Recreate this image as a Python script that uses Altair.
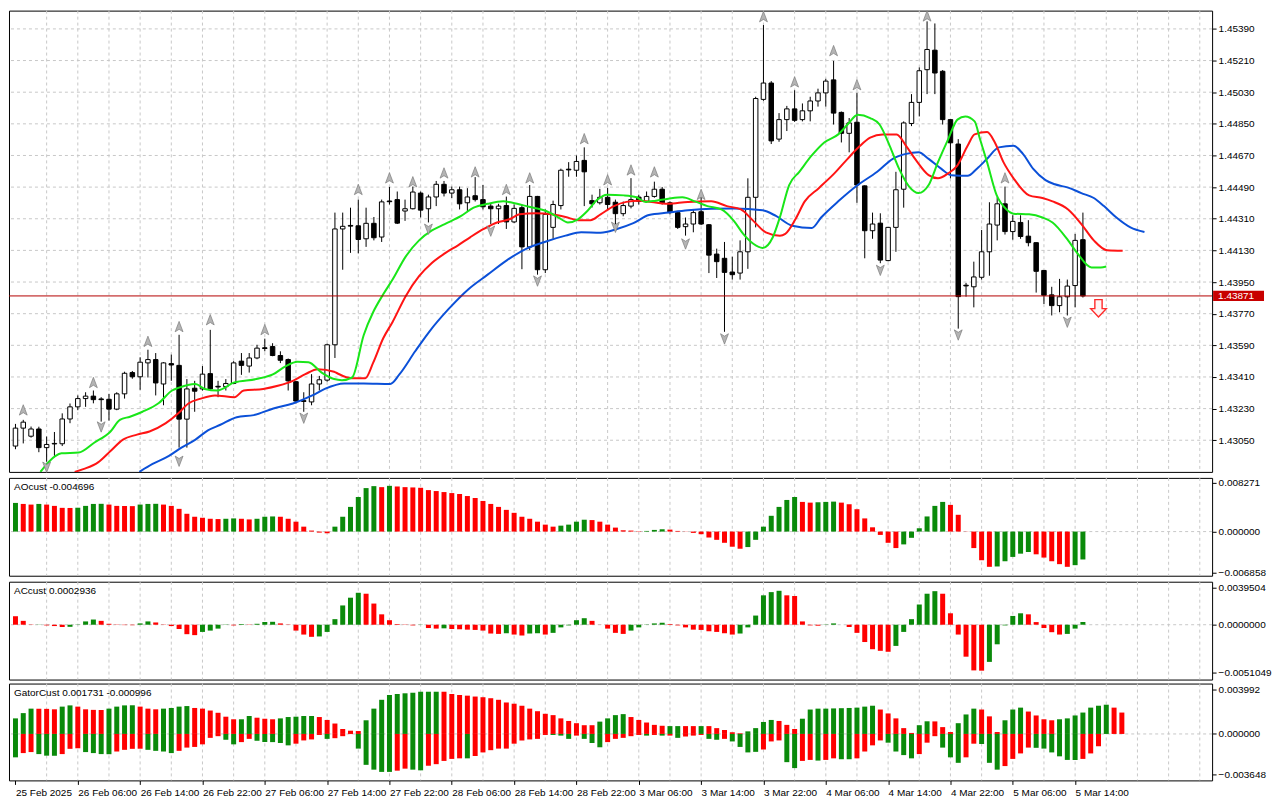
import json
import numpy as np
import pandas as pd
import altair as alt

# ---------------- data ----------------
x_labels = ["25 Feb 2025", "26 Feb 06:00", "26 Feb 14:00", "26 Feb 22:00", "27 Feb 06:00",
            "27 Feb 14:00", "27 Feb 22:00", "28 Feb 06:00", "28 Feb 14:00", "28 Feb 22:00",
            "3 Mar 06:00", "3 Mar 14:00", "3 Mar 22:00", "4 Mar 06:00", "4 Mar 14:00",
            "4 Mar 22:00", "5 Mar 06:00", "5 Mar 14:00"]

price_ticks = [1.43050, 1.43230, 1.43410, 1.43590, 1.43770, 1.43950, 1.44130,
               1.44310, 1.44490, 1.44670, 1.44850, 1.45030, 1.45210, 1.45390]

open_ = [1.43017,1.43119,1.43073,1.43114,1.43008,1.43029,1.43030,1.43171,1.43240,1.43287,
         1.43301,1.43285,1.43283,1.43227,1.43314,1.43435,1.43411,1.43490,1.43509,1.43370,
         1.43486,1.43476,1.43170,1.43346,1.43342,1.43429,1.43357,1.43355,1.43373,1.43500,
         1.43472,1.43518,1.43576,1.43583,1.43532,1.43509,1.43383,1.43275,1.43268,1.43370,
         1.43392,1.43593,1.44252,1.44272,1.44270,1.44196,1.44284,1.44206,1.44411,1.44419,
         1.44354,1.44367,1.44456,1.44367,1.44434,1.44506,1.44456,1.44475,1.44401,1.44441,
         1.44419,1.44382,1.44367,1.44385,1.44292,1.44373,1.44150,1.44437,1.44020,1.44261,
         1.44385,1.44592,1.44586,1.44642,1.44413,1.44401,1.44432,1.44404,1.44339,1.44382,
         1.44433,1.44409,1.44437,1.44478,1.44401,1.44345,1.44265,1.44280,1.44350,1.44276,
         1.44109,1.44085,1.44007,1.44001,1.44122,1.44432,1.44989,1.45082,1.44763,1.44874,
         1.44935,1.44874,1.44924,1.44980,1.45026,1.45100,1.44915,1.44796,1.44859,1.44497,
         1.44242,1.44285,1.44072,1.44261,1.44478,1.44852,1.44972,1.45158,1.45269,1.45149,
         1.44874,1.44735,1.43932,1.43923,1.43977,1.44122,1.44274,1.44395,1.44237,1.44289,
         1.44211,1.44174,1.44016,1.43877,1.43816,1.43866,1.43930,1.44191]
high = [1.43143,1.43166,1.43128,1.43127,1.43071,1.43097,1.43203,1.43259,1.43305,1.43323,
        1.43333,1.43295,1.43314,1.43323,1.43440,1.43444,1.43522,1.43565,1.43546,1.43494,
        1.43537,1.43650,1.43398,1.43388,1.43472,1.43678,1.43388,1.43398,1.43500,1.43546,
        1.43546,1.43593,1.43628,1.43602,1.43556,1.43515,1.43388,1.43323,1.43426,1.43416,
        1.43600,1.44345,1.44345,1.44373,1.44419,1.44373,1.44320,1.44419,1.44491,1.44465,
        1.44419,1.44493,1.44465,1.44447,1.44525,1.44525,1.44493,1.44493,1.44484,1.44547,
        1.44502,1.44397,1.44395,1.44436,1.44391,1.44391,1.44502,1.44440,1.44363,1.44413,
        1.44595,1.44632,1.44670,1.44716,1.44447,1.44480,1.44486,1.44419,1.44408,1.44541,
        1.44447,1.44465,1.44521,1.44491,1.44409,1.44352,1.44317,1.44363,1.44436,1.44280,
        1.44140,1.44178,1.44094,1.44187,1.44540,1.45004,1.45412,1.45093,1.44911,1.44952,
        1.45041,1.44966,1.45004,1.45050,1.45106,1.45208,1.44920,1.44883,1.45026,1.44500,
        1.44345,1.44341,1.44263,1.44577,1.44864,1.45019,1.45171,1.45433,1.45421,1.45156,
        1.44877,1.44763,1.43945,1.44066,1.44246,1.44404,1.44432,1.44493,1.44330,1.44330,
        1.44302,1.44175,1.44018,1.43923,1.43968,1.43964,1.44224,1.44345]
low = [1.42999,1.43032,1.43065,1.42982,1.42928,1.42961,1.43017,1.43147,1.43221,1.43240,
       1.43260,1.43156,1.43162,1.43221,1.43287,1.43400,1.43337,1.43407,1.43305,1.43249,
       1.43388,1.43008,1.43008,1.43212,1.43333,1.43333,1.43295,1.43333,1.43370,1.43422,
       1.43435,1.43511,1.43556,1.43528,1.43489,1.43333,1.43259,1.43212,1.43249,1.43333,
       1.43383,1.43518,1.44020,1.44116,1.44113,1.44150,1.44187,1.44178,1.44391,1.44280,
       1.44298,1.44363,1.44317,1.44289,1.44382,1.44437,1.44428,1.44363,1.44354,1.44408,
       1.44363,1.44280,1.44280,1.44252,1.44285,1.44023,1.44131,1.43992,1.44001,1.44196,
       1.44363,1.44549,1.44549,1.44382,1.44374,1.44391,1.44363,1.44280,1.44324,1.44369,
       1.44391,1.44402,1.44430,1.44391,1.44335,1.44252,1.44214,1.44233,1.44274,1.44001,
       1.43973,1.43667,1.43964,1.43964,1.44025,1.44261,1.44981,1.44735,1.44748,1.44809,
       1.44861,1.44864,1.44864,1.44948,1.44948,1.44846,1.44744,1.44688,1.44401,1.44085,
       1.44196,1.44057,1.44068,1.44122,1.44373,1.44837,1.44892,1.45019,1.45019,1.44846,
       1.44540,1.43685,1.43867,1.43806,1.43964,1.43986,1.44187,1.44220,1.44191,1.44196,
       1.44153,1.43890,1.43825,1.43760,1.43778,1.43760,1.43806,1.43862]
close = [1.43119,1.43153,1.43114,1.43008,1.43026,1.43032,1.43171,1.43240,1.43287,1.43301,
         1.43281,1.43281,1.43227,1.43314,1.43431,1.43411,1.43494,1.43509,1.43376,1.43490,
         1.43478,1.43170,1.43342,1.43329,1.43426,1.43342,1.43353,1.43373,1.43490,1.43476,
         1.43518,1.43574,1.43572,1.43532,1.43505,1.43388,1.43273,1.43271,1.43370,1.43394,
         1.43593,1.44252,1.44267,1.44268,1.44192,1.44284,1.44202,1.44406,1.44407,1.44285,
         1.44367,1.44462,1.44359,1.44434,1.44506,1.44456,1.44475,1.44395,1.44434,1.44419,
         1.44378,1.44367,1.44382,1.44292,1.44369,1.44150,1.44437,1.44020,1.44335,1.44391,
         1.44586,1.44588,1.44636,1.44577,1.44395,1.44432,1.44391,1.44339,1.44385,1.44419,
         1.44409,1.44437,1.44478,1.44401,1.44345,1.44261,1.44280,1.44345,1.44280,1.44103,
         1.44066,1.44005,1.43992,1.44122,1.44432,1.44994,1.45082,1.44753,1.44874,1.44935,
         1.44870,1.44924,1.44980,1.45026,1.45093,1.44911,1.44796,1.44855,1.44502,1.44242,
         1.44280,1.44075,1.44261,1.44475,1.44855,1.44972,1.45152,1.45273,1.45139,1.44874,
         1.44742,1.43867,1.43928,1.43979,1.44122,1.44280,1.44395,1.44237,1.44295,1.44209,
         1.44174,1.44011,1.43875,1.43816,1.43866,1.43927,1.44187,1.43871]

# Alligator lines (bar position, price)
lips_bar = [3.2,5.1,5.9,8.1,10.1,12.2,13.4,14.7,16.3,18.4,20.1,20.9,23.1,24.3,25.9,28.1,30.9,33.1,
            34.7,36.2,37.6,39.3,40.9,41.9,43.2,44.7,45.9,47.2,48.4,50.1,51.8,53.4,55.1,57.2,58.8,
            60.6,62.6,63.8,65.9,68.1,69.7,70.9,72.2,73.4,74.7,75.9,78.1,79.7,80.9,82.2,83.8,85.6,
            87.2,88.8,90.6,92.2,93.4,94.7,95.9,97.2,98.1,99.3,100.6,102.2,103.8,105.6,106.8,108.1,
            109.7,110.9,112.2,113.4,114.7,115.9,117.2,118.4,119.7,120.9,121.9,123.1,123.8,124.7,
            125.9,127.2,128.1,130.1,131.8,133.1,135.1,136.3,138.1,139.3,140.0]
lips_val = [1.42870,1.42960,1.42976,1.42980,1.43036,1.43100,1.43166,1.43184,1.43212,1.43262,
            1.43333,1.43348,1.43370,1.43342,1.43333,1.43379,1.43398,1.43426,1.43472,1.43496,
            1.43494,1.43435,1.43398,1.43392,1.43407,1.43649,1.43778,1.43880,1.43964,1.44096,
            1.44187,1.44242,1.44280,1.44326,1.44373,1.44395,1.44409,1.44401,1.44378,1.44354,
            1.44317,1.44289,1.44307,1.44354,1.44419,1.44447,1.44443,1.44432,1.44406,1.44413,
            1.44424,1.44432,1.44409,1.44382,1.44363,1.44298,1.44224,1.44168,1.44144,1.44205,
            1.44317,1.44502,1.44577,1.44670,1.44744,1.44790,1.44846,1.44902,1.44883,1.44846,
            1.44725,1.44595,1.44493,1.44456,1.44502,1.44632,1.44762,1.44874,1.44892,1.44864,
            1.44762,1.44632,1.44447,1.44363,1.44339,1.44335,1.44317,1.44289,1.44187,1.44113,
            1.44033,1.44033,1.44038]
teeth_bar = [7.6,8.8,10.6,12.2,13.8,15.6,17.2,19.3,20.9,22.2,23.8,25.6,28.1,29.3,31.8,33.8,35.6,
             37.2,38.8,40.9,41.3,43.1,44.9,45.9,47.2,48.4,50.1,51.8,53.4,55.1,56.8,58.4,60.1,61.8,
             63.4,64.7,66.8,68.8,70.6,72.2,73.8,75.1,76.8,78.4,80.1,83.8,86.3,89.3,91.3,93.1,94.7,
             96.3,98.1,98.8,100.1,101.3,103.1,105.1,106.8,108.4,109.7,111.3,113.1,114.3,115.6,
             117.2,118.4,119.7,120.9,122.2,123.1,124.7,125.7,126.8,128.1,130.1,131.8,133.1,135.1,
             136.8,138.4,140.1,142.1]
teeth_val = [1.42870,1.42887,1.42924,1.42989,1.43054,1.43082,1.43100,1.43147,1.43203,1.43259,
             1.43287,1.43305,1.43295,1.43333,1.43342,1.43361,1.43388,1.43426,1.43454,1.43440,
             1.43431,1.43403,1.43403,1.43490,1.43630,1.43723,1.43871,1.43983,1.44057,1.44113,
             1.44159,1.44206,1.44252,1.44289,1.44307,1.44335,1.44341,1.44335,1.44320,1.44302,
             1.44302,1.44335,1.44382,1.44406,1.44413,1.44395,1.44406,1.44409,1.44382,1.44363,
             1.44298,1.44233,1.44214,1.44224,1.44307,1.44409,1.44484,1.44568,1.44651,1.44725,
             1.44771,1.44790,1.44790,1.44725,1.44642,1.44558,1.44540,1.44568,1.44614,1.44725,
             1.44790,1.44803,1.44744,1.44632,1.44540,1.44443,1.44428,1.44409,1.44363,1.44280,
             1.44187,1.44131,1.44128]
jaw_bar = [15.9,17.6,19.7,21.3,23.1,24.7,26.3,28.4,30.6,33.1,35.6,38.1,39.7,42.2,44.7,48.1,49.3,
           51.3,53.1,55.6,58.1,60.6,63.1,65.6,68.1,70.6,72.6,75.1,77.2,79.3,81.3,83.8,86.3,89.3,
           92.2,95.9,97.6,99.7,102.2,103.4,105.6,108.1,110.6,112.6,114.3,115.9,117.2,118.8,120.1,
           122.2,123.4,124.7,126.2,128.1,129.3,130.6,132.2,133.4,135.1,136.8,138.4,139.7,141.3,
           143.1,144.9]
jaw_val = [1.42870,1.42915,1.42961,1.43008,1.43054,1.43106,1.43138,1.43181,1.43193,1.43231,
           1.43259,1.43305,1.43342,1.43373,1.43373,1.43370,1.43426,1.43556,1.43667,1.43797,
           1.43908,1.43992,1.44075,1.44140,1.44181,1.44214,1.44233,1.44231,1.44252,1.44285,
           1.44331,1.44345,1.44358,1.44367,1.44369,1.44358,1.44326,1.44270,1.44257,1.44317,
           1.44409,1.44502,1.44577,1.44651,1.44679,1.44688,1.44651,1.44595,1.44558,1.44554,
           1.44595,1.44651,1.44716,1.44725,1.44679,1.44595,1.44530,1.44506,1.44487,1.44456,
           1.44428,1.44382,1.44317,1.44261,1.44235]

# Fractals (bar, marker price)
frac_up_bar = [1,10,17,21,25,32,44,48,51,55,59,63,66,73,76,79,82,88,96,100,105,108,117,127]
frac_up_val = [1.43221,1.43377,1.43611,1.43695,1.43734,1.43678,1.44475,1.44541,1.44519,1.44569,
               1.44575,1.44475,1.44541,1.44764,1.44530,1.44586,1.44575,1.44447,1.45458,1.45087,
               1.45265,1.45071,1.45462,1.44541]
frac_dn_bar = [4,11,21,37,53,61,67,77,86,91,111,121,135]
frac_dn_val = [1.42898,1.43127,1.42932,1.43177,1.44252,1.44241,1.43957,1.44263,1.44168,1.43628,
               1.44018,1.43650,1.43723]

last_price = 1.43871
signal_bar = [139]
signal_val = [1.43801]

# AO histogram
ao_val = [0.00483,0.00466,0.00455,0.00466,0.00455,0.00433,0.00400,0.00398,0.00402,0.00433,
          0.00466,0.00468,0.00455,0.00433,0.00431,0.00429,0.00455,0.00466,0.00468,0.00455,
          0.00433,0.00383,0.00300,0.00250,0.00233,0.00216,0.00211,0.00216,0.00222,0.00216,
          0.00205,0.00216,0.00250,0.00255,0.00250,0.00216,0.00167,0.00083,0.00017,-0.00017,
          -0.00028,0.00083,0.00250,0.00416,0.00583,0.00733,0.00766,0.00749,0.00771,0.00760,
          0.00749,0.00744,0.00738,0.00699,0.00683,0.00666,0.00649,0.00633,0.00599,0.00566,
          0.00516,0.00466,0.00416,0.00366,0.00316,0.00250,0.00216,0.00167,0.00117,0.00083,
          0.00100,0.00117,0.00167,0.00200,0.00194,0.00167,0.00117,0.00067,0.00022,0.00017,
          0.00006,0.00011,0.00028,0.00039,0.00033,0.00011,-0.00003,-0.00022,-0.00044,-0.00100,
          -0.00139,-0.00189,-0.00255,-0.00289,-0.00261,-0.00139,0.00083,0.00266,0.00416,0.00533,
          0.00583,0.00500,0.00488,0.00494,0.00500,0.00505,0.00488,0.00461,0.00377,0.00222,
          0.00072,-0.00056,-0.00189,-0.00278,-0.00216,-0.00105,0.00056,0.00255,0.00433,0.00500,
          0.00450,0.00283,-0.00003,-0.00278,-0.00483,-0.00594,-0.00588,-0.00500,-0.00427,-0.00372,
          -0.00344,-0.00383,-0.00438,-0.00500,-0.00549,-0.00594,-0.00566,-0.00470]
ao_col = ("grrgrrrrggggrrrrgggrrrrrrrrggrrgggrrrrrrrggggggrg" + "r" * 21 +
          "ggggrrrrrrrgggrrrrrrrrrrgggggggrrgggrrrrrrrrggggggrrrrrrgggggrrrrrgg")

# AC histogram
ac_val = [0.00090,0.00041,-0.00003,-0.00002,-0.00007,-0.00014,-0.00024,-0.00022,-0.00003,0.00035,
          0.00055,0.00041,0.00010,-0.00003,-0.00004,-0.00005,0.00014,0.00035,0.00024,-0.00003,
          -0.00014,-0.00045,-0.00100,-0.00110,-0.00076,-0.00062,-0.00041,-0.00003,-0.00007,0.00007,
          -0.00003,0.00010,0.00028,0.00031,0.00014,-0.00003,-0.00062,-0.00104,-0.00128,-0.00124,
          -0.00076,0.00059,0.00204,0.00286,0.00338,0.00328,0.00224,0.00110,0.00048,0.00007,
          -0.00003,-0.00007,0.00002,-0.00035,-0.00041,-0.00038,-0.00045,-0.00048,-0.00052,-0.00055,
          -0.00062,-0.00093,-0.00097,-0.00090,-0.00104,-0.00114,-0.00093,-0.00090,-0.00104,-0.00086,
          -0.00028,-0.00007,0.00048,0.00069,0.00041,-0.00001,-0.00041,-0.00086,-0.00097,-0.00062,
          -0.00028,-0.00003,0.00014,0.00021,0.00007,-0.00007,-0.00028,-0.00052,-0.00055,-0.00069,
          -0.00076,-0.00090,-0.00104,-0.00093,-0.00028,0.00097,0.00311,0.00345,0.00359,0.00311,
          0.00304,0.00035,-0.00007,-0.00010,-0.00003,0.00014,0.00000,-0.00024,-0.00086,-0.00183,
          -0.00259,-0.00276,-0.00286,-0.00224,-0.00076,0.00059,0.00214,0.00328,0.00355,0.00328,
          0.00121,-0.00104,-0.00338,-0.00483,-0.00486,-0.00393,-0.00207,-0.00007,0.00093,0.00121,
          0.00110,0.00028,-0.00035,-0.00079,-0.00104,-0.00097,-0.00041,0.00029]
ac_col = ("rrrgrrrggg" "grrrrrggrr" "rrrrggggrg" "rgggrrrrrg" "gggggrrrrr" "rrgrrgrrrr"
          "rrrgrrggrg" "ggggrrrrrg" "ggggrrrrrr" "rrrggggggr" "rrrrggrrrr" "rrrggggggr"
          "rrrrrggggg" "rrrrrggg")

# Gator oscillator: upper and lower histograms
gu_val = [0.00139,0.00186,0.00226,0.00225,0.00224,0.00220,0.00244,0.00255,0.00244,0.00220,
          0.00215,0.00214,0.00226,0.00244,0.00255,0.00256,0.00244,0.00226,0.00220,0.00226,
          0.00232,0.00244,0.00249,0.00232,0.00226,0.00209,0.00189,0.00154,0.00131,0.00131,
          0.00160,0.00145,0.00136,0.00131,0.00139,0.00151,0.00154,0.00160,0.00160,0.00151,
          0.00125,0.00093,0.00044,0.00029,0.00026,0.00122,0.00226,0.00305,0.00348,0.00357,
          0.00363,0.00368,0.00377,0.00377,0.00377,0.00377,0.00357,0.00348,0.00342,0.00334,
          0.00328,0.00319,0.00305,0.00281,0.00270,0.00252,0.00226,0.00203,0.00180,0.00168,
          0.00139,0.00116,0.00096,0.00078,0.00078,0.00110,0.00139,0.00168,0.00177,0.00151,
          0.00125,0.00102,0.00081,0.00073,0.00070,0.00070,0.00070,0.00070,0.00070,0.00070,
          0.00052,0.00035,0.00015,0.00006,0.00023,0.00052,0.00107,0.00125,0.00116,0.00081,
          0.00044,0.00136,0.00218,0.00226,0.00226,0.00228,0.00230,0.00232,0.00235,0.00244,
          0.00252,0.00218,0.00183,0.00139,0.00052,0.00009,0.00078,0.00113,0.00112,0.00061,
          0.00017,0.00096,0.00174,0.00226,0.00218,0.00157,0.00017,0.00122,0.00218,0.00235,
          0.00200,0.00165,0.00131,0.00122,0.00131,0.00139,0.00165,0.00191,0.00235,0.00252,
          0.00261,0.00235,0.00191]
gu_col = ("gggrrrggrr" "rrggggrrrg" "gggrrrrrrg" "grrrgggggr" "rrrrrggggg" "gggggrrrrr"
          "rrrrrrrrrr" "rrrrrggggr" "rrrrggrrgr" "rrrrggggrr" "rggggggg"
          "gggrrrrrggrrrgggrrrgggrrrrgggggggrr")
gl_val = [-0.00209,-0.00171,-0.00162,-0.00180,-0.00194,-0.00195,-0.00180,-0.00133,-0.00128,-0.00162,
          -0.00171,-0.00180,-0.00181,-0.00157,-0.00142,-0.00133,-0.00132,-0.00142,-0.00151,-0.00157,
          -0.00171,-0.00151,-0.00122,-0.00116,-0.00093,-0.00035,-0.00020,-0.00052,-0.00093,-0.00073,
          -0.00044,-0.00061,-0.00073,-0.00073,-0.00081,-0.00102,-0.00087,-0.00058,-0.00049,-0.00009,
          -0.00044,-0.00038,-0.00020,-0.00001,-0.00131,-0.00276,-0.00319,-0.00339,-0.00339,-0.00328,
          -0.00310,-0.00319,-0.00325,-0.00284,-0.00270,-0.00241,-0.00223,-0.00218,-0.00218,-0.00197,
          -0.00165,-0.00145,-0.00131,-0.00131,-0.00087,-0.00058,-0.00049,-0.00044,-0.00009,-0.00009,
          -0.00015,-0.00044,-0.00015,-0.00044,-0.00081,-0.00119,-0.00073,-0.00044,-0.00035,-0.00020,
          -0.00009,-0.00015,-0.00009,-0.00015,-0.00015,-0.00035,-0.00023,-0.00015,-0.00009,-0.00044,
          -0.00052,-0.00044,-0.00067,-0.00116,-0.00165,-0.00160,-0.00139,-0.00067,-0.00058,-0.00252,
          -0.00305,-0.00241,-0.00232,-0.00238,-0.00232,-0.00218,-0.00226,-0.00226,-0.00218,-0.00157,
          -0.00102,-0.00058,-0.00078,-0.00157,-0.00189,-0.00218,-0.00180,-0.00078,-0.00020,-0.00122,
          -0.00209,-0.00258,-0.00209,-0.00087,-0.00090,-0.00258,-0.00319,-0.00287,-0.00223,-0.00174,
          -0.00122,-0.00124,-0.00131,-0.00165,-0.00200,-0.00232,-0.00233,-0.00223,-0.00174,-0.00110]
gl_col = ("grrgggrrrg" "gggrrrrggg" "grrrrrrggr" "rgggggrrrr" "grrrgggggr" "rggrrrrrgr"
          "rrrrrrrrrg" "ggrgggrrrr" "rgrgrgrrrg" "grggggrrrg" "grrgrrgg"
          "rrrrggggrrrgggrrggg" "rrrrggggggrrr")

ao_ticks = [0.008271, 0.0, -0.006858]
ac_ticks = [0.0039504, 0.0, -0.0051049]
gator_ticks = [0.003992, 0.0, -0.003648]
grid_bars = list(range(4, 153, 4))
label_bars = list(range(0, 137, 8))

# ---------------- styling / layout ----------------
W = 1205
H_MAIN = 462
H_IND = 98
H_GATOR = 97
FONT = "Liberation Sans"
X_DOMAIN = [-0.19, 152.94]
GREEN_H = "#0a8a0a"
RED_H = "#ff0000"
GRID = "#c8c8c8"

xscale = alt.Scale(domain=X_DOMAIN, nice=False, zero=False)


def X(field="bar", axis=None):
    return alt.X(f"{field}:Q", scale=xscale, axis=axis, title=None)


def yaxis(values, fmt):
    return alt.Axis(orient="right", values=values, format=fmt, grid=False, domain=False,
                    ticks=True, tickSize=4, tickColor="black", labelColor="black",
                    labelFont=FONT, labelFontSize=10, labelPadding=2, title=None,
                    labelFlush=False, labelOverlap=False, labelBound=False)


main_scale = alt.Scale(domain=[1.42870, 1.45494], nice=False, zero=False)
main_axis = yaxis(price_ticks, ".5f")


def YM(field):
    return alt.Y(f"{field}:Q", scale=main_scale, axis=main_axis, title=None)


candles = pd.DataFrame({"bar": list(range(len(open_))), "o": open_, "h": high,
                        "l": low, "c": close})
candles["dir"] = np.where(candles["c"] >= candles["o"], "up", "down")

vgrid_df = pd.DataFrame({"bar": grid_bars})

# ---- main panel ----
vgrid_main = alt.Chart(vgrid_df).mark_rule(color=GRID, strokeDash=[3, 3], strokeWidth=1).encode(x=X())
hgrid_main = alt.Chart(pd.DataFrame({"p": price_ticks})).mark_rule(
    color=GRID, strokeDash=[3, 3], strokeWidth=1).encode(y=YM("p"))
wicks = alt.Chart(candles).mark_rule(color="black", strokeWidth=1).encode(
    x=X(), y=YM("l"), y2="h:Q")
bodies = alt.Chart(candles).mark_bar(width=4.5, stroke="black", strokeWidth=1).encode(
    x=X(), y=YM("o"), y2="c:Q",
    fill=alt.Fill("dir:N", scale=alt.Scale(domain=["up", "down"], range=["white", "black"]),
                  legend=None))


def ma_line(bars, vals, color):
    df = pd.DataFrame({"bar": bars, "v": vals})
    return alt.Chart(df).mark_line(color=color, strokeWidth=2, clip=True,
                                   interpolate="monotone").encode(x=X(), y=YM("v"))


lips = ma_line(lips_bar, lips_val, "#19e619")
teeth = ma_line(teeth_bar, teeth_val, "#ff1414")
jaw = ma_line(jaw_bar, jaw_val, "#0b50d8")

price_line = alt.Chart(pd.DataFrame({"p": [last_price]})).mark_rule(
    color="#b40000", strokeWidth=1).encode(y=YM("p"))

UP_PATH = "M0,-1L0.72,0.9L0,0.45L-0.72,0.9Z"
DN_PATH = "M0,1L0.72,-0.9L0,-0.45L-0.72,-0.9Z"
fr_up = alt.Chart(pd.DataFrame({"bar": frac_up_bar, "v": frac_up_val})).mark_point(
    shape=UP_PATH, filled=True, fill="#b4b4b4", stroke="#7c7c7c", strokeWidth=0.7,
    size=120, opacity=1).encode(x=X(), y=YM("v"))
fr_dn = alt.Chart(pd.DataFrame({"bar": frac_dn_bar, "v": frac_dn_val})).mark_point(
    shape=DN_PATH, filled=True, fill="#b4b4b4", stroke="#7c7c7c", strokeWidth=0.7,
    size=120, opacity=1).encode(x=X(), y=YM("v"))

ARROW = "M-0.42,-1L0.42,-1L0.42,0.05L0.9,0.05L0,1L-0.9,0.05L-0.42,0.05Z"
signal = alt.Chart(pd.DataFrame({"bar": signal_bar, "v": signal_val})).mark_point(
    shape=ARROW, filled=True, fill="#fff4f4", stroke="#ff2a2a", strokeWidth=1.4,
    size=300, opacity=1).encode(x=X(), y=YM("v"))

tag_df = pd.DataFrame({"p": [last_price], "top": [last_price + 0.00029],
                       "bot": [last_price - 0.00029], "t": [f"{last_price:.5f}"]})
tag_box = alt.Chart(tag_df).mark_rect(color="#c80000").encode(
    x=alt.value(W + 1), x2=alt.value(W + 52), y=YM("top"), y2="bot:Q")
tag_txt = alt.Chart(tag_df).mark_text(color="white", align="left", baseline="middle",
                                      font=FONT, fontSize=10).encode(
    x=alt.value(W + 6), y=YM("p"), text="t:N")

main = alt.layer(vgrid_main, hgrid_main, wicks, bodies, jaw, teeth, lips, price_line,
                 fr_up, fr_dn, signal, tag_box, tag_txt).properties(width=W, height=H_MAIN)


# ---- indicator panels ----
def title_text(txt):
    return alt.Chart(pd.DataFrame({"t": [txt]})).mark_text(
        align="left", baseline="top", font=FONT, fontSize=10, color="black").encode(
        x=alt.value(5), y=alt.value(4), text="t:N")


color_scale = alt.Scale(domain=["g", "r"], range=[GREEN_H, RED_H])


def hist_panel(series, domain, ticks, fmt, title, height, xaxis=None):
    scale = alt.Scale(domain=domain, nice=False, zero=False)
    ax = yaxis(ticks, fmt)

    def Y(field):
        return alt.Y(f"{field}:Q", scale=scale, axis=ax, title=None)

    layers = [
        alt.Chart(vgrid_df).mark_rule(color=GRID, strokeDash=[3, 3]).encode(x=X(axis=xaxis)),
        alt.Chart(pd.DataFrame({"z": [0.0]})).mark_rule(color=GRID, strokeDash=[3, 3]).encode(y=Y("z")),
    ]
    for vals, cols in series:
        df = pd.DataFrame({"bar": list(range(len(vals))), "v": vals, "col": list(cols),
                           "z": 0.0})
        layers.append(alt.Chart(df).mark_bar(width=5).encode(
            x=X(axis=xaxis), y=Y("v"), y2="z:Q",
            color=alt.Color("col:N", scale=color_scale, legend=None)))
    layers.append(title_text(title))
    return alt.layer(*layers).properties(width=W, height=height)


xaxis_bottom = alt.Axis(values=label_bars, labelExpr=f"{json.dumps(x_labels)}[round(datum.value/8)]",
                        labelAlign="left", labelPadding=3, tickSize=4, tickColor="black",
                        domain=False, grid=False, labelFont=FONT, labelFontSize=10,
                        labelColor="black", labelOverlap=False, labelFlush=False,
                        labelBound=False, title=None)

ao = hist_panel([(ao_val, ao_col)], [-0.00744, 0.00905], ao_ticks, ".6f",
                "AOcust -0.004696", H_IND)
ac = hist_panel([(ac_val, ac_col)], [-0.00580, 0.00455], ac_ticks, ".7f",
                "ACcust 0.0002936", H_IND)
gator = hist_panel([(gu_val, gu_col), (gl_val, gl_col)], [-0.00415, 0.00450], gator_ticks,
                   ".6f", "GatorCust 0.001731 -0.000996", H_GATOR, xaxis=xaxis_bottom)

chart = alt.vconcat(main, ao, ac, gator, spacing=2).resolve_scale(
    y="independent", color="independent", fill="independent"
).properties(
    padding={"left": 0, "top": 0, "right": 0, "bottom": 0}, background="white"
).configure_view(
    stroke="black", strokeWidth=1
)

chart.save("out.html", embed_options={"renderer": "svg", "actions": False})
